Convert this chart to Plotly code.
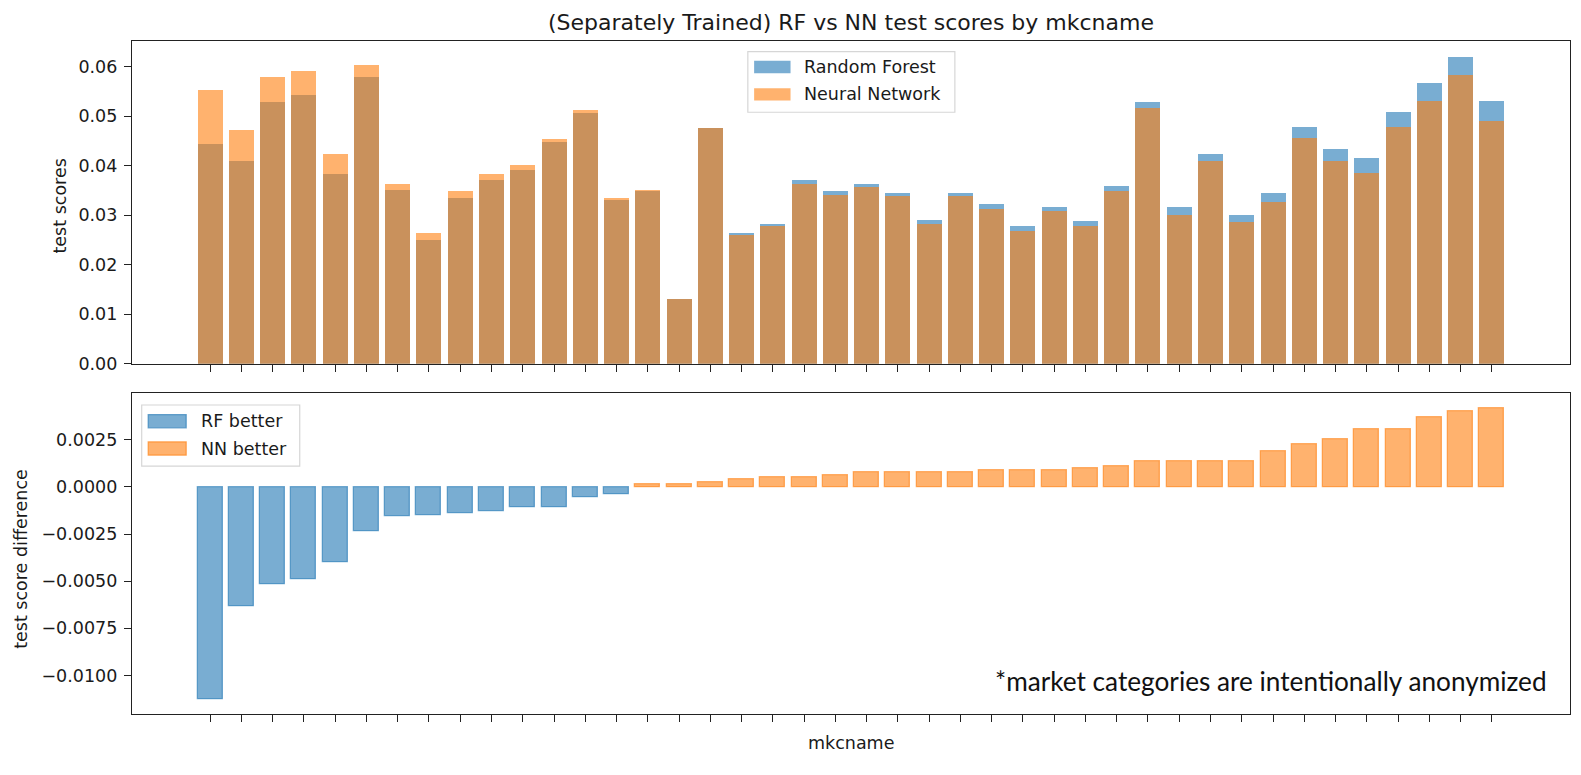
import plotly.graph_objects as go

# ---------------- data ----------------
rf_scores = [0.0443, 0.0409, 0.0528, 0.0543, 0.0384, 0.0580, 0.0350, 0.0249, 0.0335, 0.0372,
             0.0391, 0.0447, 0.0506, 0.0331, 0.0349, 0.0130, 0.0476, 0.0264, 0.0283, 0.0371,
             0.0349, 0.0364, 0.0345, 0.0290, 0.0345, 0.0323, 0.0278, 0.0316, 0.0289, 0.0360,
             0.0528, 0.0316, 0.0424, 0.0301, 0.0345, 0.0479, 0.0434, 0.0416, 0.0509, 0.0568,
             0.0620, 0.0531]
nn_scores = [0.0553, 0.0472, 0.0580, 0.0591, 0.0424, 0.0603, 0.0364, 0.0264, 0.0349, 0.0383,
             0.0401, 0.0453, 0.0513, 0.0334, 0.0350, 0.0131, 0.0477, 0.0261, 0.0279, 0.0364,
             0.0341, 0.0357, 0.0338, 0.0282, 0.0338, 0.0312, 0.0268, 0.0308, 0.0278, 0.0349,
             0.0516, 0.0301, 0.0409, 0.0286, 0.0327, 0.0457, 0.0409, 0.0386, 0.0479, 0.0531,
             0.0583, 0.0491]
score_diff = [-0.01127, -0.00634, -0.00518, -0.00489, -0.00401, -0.00238, -0.00158, -0.00150,
              -0.00141, -0.00130, -0.00109, -0.00109, -0.00053, -0.00042, 0.00012, 0.00012,
              0.00023, 0.00040, 0.00050, 0.00050, 0.00060, 0.00079, 0.00079, 0.00079, 0.00079,
              0.00088, 0.00088, 0.00088, 0.00099, 0.00107, 0.00137, 0.00137, 0.00137, 0.00137,
              0.00187, 0.00225, 0.00254, 0.00303, 0.00303, 0.00370, 0.00400, 0.00419]
top_ticks = [0.00, 0.01, 0.02, 0.03, 0.04, 0.05, 0.06]
bottom_ticks = [-0.0100, -0.0075, -0.0050, -0.0025, 0.0000, 0.0025]

positions = list(range(len(rf_scores)))  # anonymized market categories

# ---------------- geometry (page pixels; body margin of the page is 8px) ----------------
OFF = 8
W, H = 1565, 759
FRAME_L, FRAME_R, FRAME_T, FRAME_B = 132.3, 1570.0, 41.3, 713.7   # page coords
ML = FRAME_L - OFF
MR = W - (FRAME_R - OFF)
MT = FRAME_T - OFF
MB = H - (FRAME_B - OFF)
PW, PH = W - ML - MR, H - MT - MB

BLUE = "rgba(31,119,180,0.6)"
ORANGE = "rgba(255,127,14,0.6)"
FONT = "DejaVu Sans"
TXT = "#1a1a1a"
FS = 17.5


def px(x):
    return (x - OFF - ML) / PW


def py(y):
    return (H - MB - (y - OFF)) / PH


fig = go.Figure()

fig.add_trace(go.Bar(x=positions, y=rf_scores, width=0.8, name="Random Forest",
                     marker=dict(color=BLUE, line=dict(width=0)),
                     xaxis="x", yaxis="y", showlegend=False))
fig.add_trace(go.Bar(x=positions, y=nn_scores, width=0.8, name="Neural Network",
                     marker=dict(color=ORANGE, line=dict(width=0)),
                     xaxis="x", yaxis="y", showlegend=False))

rf_better_x = [p for p, d in zip(positions, score_diff) if d < 0]
rf_better_y = [d for d in score_diff if d < 0]
nn_better_x = [p for p, d in zip(positions, score_diff) if d >= 0]
nn_better_y = [d for d in score_diff if d >= 0]

fig.add_trace(go.Bar(x=rf_better_x, y=rf_better_y, width=0.8, name="RF better",
                     marker=dict(color=BLUE, line=dict(color=BLUE, width=1.3)),
                     xaxis="x2", yaxis="y2", showlegend=False))
fig.add_trace(go.Bar(x=nn_better_x, y=nn_better_y, width=0.8, name="NN better",
                     marker=dict(color=ORANGE, line=dict(color=ORANGE, width=1.3)),
                     xaxis="x2", yaxis="y2", showlegend=False))

top_dom = [py(363.7), 1.0]
bot_dom = [0.0, py(393.3)]

common_x = dict(range=[-2.5, 43.5], tickvals=positions, showticklabels=False,
                ticks="outside", ticklen=7, tickwidth=1.2, tickcolor="#222",
                showline=True, mirror=True, linecolor="#222", linewidth=1.3,
                showgrid=False, zeroline=False)
common_y = dict(ticks="outside", ticklen=7, tickwidth=1.2, tickcolor="#222",
                showline=True, mirror=True, linecolor="#222", linewidth=1.3,
                showgrid=False, zeroline=False, ticklabelstandoff=3,
                tickfont=dict(family=FONT, size=FS, color=TXT))

fig.update_layout(
    width=W, height=H,
    margin=dict(l=ML, r=MR, t=MT, b=MB, autoexpand=False),
    paper_bgcolor="white", plot_bgcolor="white",
    barmode="overlay", bargap=0,
    showlegend=False,
    font=dict(family=FONT, size=FS, color=TXT),
    xaxis=dict(domain=[0, 1], anchor="y", **common_x),
    xaxis2=dict(domain=[0, 1], anchor="y2", **common_x),
    yaxis=dict(domain=top_dom, anchor="x", range=[0, 0.0652], tickvals=top_ticks,
               tickformat=".2f", **common_y),
    yaxis2=dict(domain=bot_dom, anchor="x2", range=[-0.01204, 0.00496], tickvals=bottom_ticks,
                tickformat=".4f", **common_y),
)

ann = []
# title
ann.append(dict(text="(Separately Trained) RF vs NN test scores by mkcname", x=0.5, y=py(23),
                xref="paper", yref="paper", xanchor="center", yanchor="middle", showarrow=False,
                font=dict(family=FONT, size=22, color=TXT)))
# axis labels
ann.append(dict(text="test scores", x=px(60), y=py(206), xref="paper", yref="paper",
                textangle=-90, xanchor="center", yanchor="middle", showarrow=False,
                font=dict(family=FONT, size=FS, color=TXT)))
ann.append(dict(text="test score difference", x=px(21), y=py(559), xref="paper", yref="paper",
                textangle=-90, xanchor="center", yanchor="middle", showarrow=False,
                font=dict(family=FONT, size=FS, color=TXT)))
ann.append(dict(text="mkcname", x=0.5, y=py(743), xref="paper", yref="paper",
                xanchor="center", yanchor="middle", showarrow=False,
                font=dict(family=FONT, size=FS, color=TXT)))
# note
ann.append(dict(text="*market categories are intentionally anonymized", x=px(1549), y=py(681),
                xref="paper", yref="paper", xanchor="right", yanchor="middle", showarrow=False,
                font=dict(family="Lato", size=26.2, color="#111")))

shapes = []


def legend_box(x0, x1, y0, y1):
    shapes.append(dict(type="rect", xref="paper", yref="paper", x0=px(x0), x1=px(x1),
                       y0=py(y1), y1=py(y0), fillcolor="rgba(255,255,255,0.8)",
                       line=dict(color="#d6d6d6", width=1.2), layer="above"))


def legend_item(x0, x1, y0, y1, color, edge, label, tx):
    shapes.append(dict(type="rect", xref="paper", yref="paper", x0=px(x0), x1=px(x1),
                       y0=py(y1), y1=py(y0), fillcolor=color,
                       line=dict(color=color if edge else "rgba(0,0,0,0)", width=1.3 if edge else 0),
                       layer="above"))
    ann.append(dict(text=label, x=px(tx), y=py((y0 + y1) / 2), xref="paper", yref="paper",
                    xanchor="left", yanchor="middle", showarrow=False,
                    font=dict(family=FONT, size=FS, color=TXT)))


legend_box(748, 955, 52, 112.5)
legend_item(754.3, 790.7, 61, 73.4, BLUE, False, "Random Forest", 802)
legend_item(754.3, 790.7, 88.4, 100.7, ORANGE, False, "Neural Network", 802)

legend_box(142, 300, 405, 466)
legend_item(148.5, 186.5, 414.5, 427.8, BLUE, True, "RF better", 199)
legend_item(148.5, 186.5, 441.8, 455.1, ORANGE, True, "NN better", 199)

fig.update_layout(annotations=ann, shapes=shapes)

fig.write_html("out.html")
